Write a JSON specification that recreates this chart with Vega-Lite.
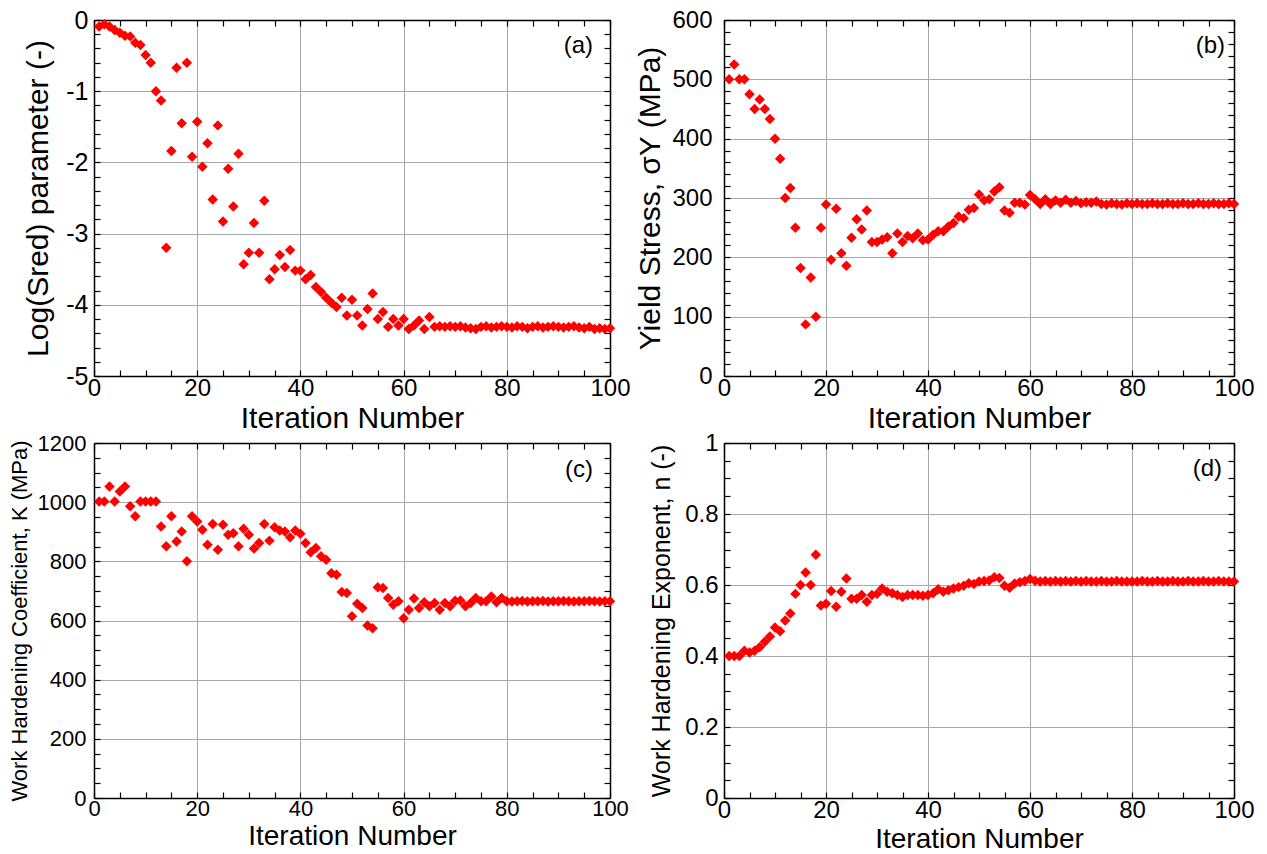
{
  "$schema": "https://vega.github.io/schema/vega-lite/v6.json",
  "background": "white",
  "padding": {"left": 8, "top": 8, "right": 0, "bottom": 0},
  "config": {
    "font": "Liberation Sans",
    "view": {"stroke": null},
    "axis": {
      "domainColor": "black", "domainWidth": 1.5,
      "tickColor": "black", "tickWidth": 1.2, "tickSize": -6,
      "labelPadding": 12, "labelColor": "black", "labelFont": "Liberation Sans",
      "titleColor": "black", "titleFont": "Liberation Sans", "titleFontWeight": "normal",
      "gridColor": "#a8a8a8", "gridWidth": 1,
      "labelOverlap": false, "labelFlush": false
    },
    "axisX": {"labelPadding": 6, "titlePadding": 3},
    "title": {"font": "Liberation Sans", "fontWeight": "normal", "color": "black"}
  },
  "datasets": {
    "iter": [
      {"it":1,"logS":-0.09,"sy":500,"K":1002,"n":0.40},
      {"it":2,"logS":-0.06,"sy":525,"K":1002,"n":0.40},
      {"it":3,"logS":-0.09,"sy":500,"K":1053,"n":0.40},
      {"it":4,"logS":-0.14,"sy":500,"K":1002,"n":0.415},
      {"it":5,"logS":-0.18,"sy":475,"K":1036,"n":0.41},
      {"it":6,"logS":-0.22,"sy":450,"K":1053,"n":0.415},
      {"it":7,"logS":-0.23,"sy":466,"K":986,"n":0.425},
      {"it":8,"logS":-0.32,"sy":450,"K":952,"n":0.44},
      {"it":9,"logS":-0.35,"sy":433,"K":1002,"n":0.455},
      {"it":10,"logS":-0.49,"sy":400,"K":1002,"n":0.48},
      {"it":11,"logS":-0.60,"sy":366,"K":1002,"n":0.47},
      {"it":12,"logS":-1.00,"sy":300,"K":1002,"n":0.50},
      {"it":13,"logS":-1.13,"sy":317,"K":918,"n":0.52},
      {"it":14,"logS":-3.20,"sy":250,"K":851,"n":0.575},
      {"it":15,"logS":-1.84,"sy":182,"K":952,"n":0.60},
      {"it":16,"logS":-0.67,"sy":87,"K":867,"n":0.635},
      {"it":17,"logS":-1.45,"sy":166,"K":901,"n":0.60},
      {"it":18,"logS":-0.60,"sy":100,"K":800,"n":0.685},
      {"it":19,"logS":-1.92,"sy":250,"K":952,"n":0.542},
      {"it":20,"logS":-1.43,"sy":289,"K":935,"n":0.547},
      {"it":21,"logS":-2.06,"sy":196,"K":907,"n":0.583},
      {"it":22,"logS":-1.73,"sy":282,"K":856,"n":0.539},
      {"it":23,"logS":-2.52,"sy":207,"K":926,"n":0.581},
      {"it":24,"logS":-1.48,"sy":186,"K":839,"n":0.618},
      {"it":25,"logS":-2.83,"sy":233,"K":924,"n":0.561},
      {"it":26,"logS":-2.09,"sy":264,"K":890,"n":0.561},
      {"it":27,"logS":-2.62,"sy":247,"K":895,"n":0.572},
      {"it":28,"logS":-1.88,"sy":279,"K":851,"n":0.553},
      {"it":29,"logS":-3.43,"sy":226,"K":910,"n":0.572},
      {"it":30,"logS":-3.27,"sy":226,"K":890,"n":0.575},
      {"it":31,"logS":-2.85,"sy":230,"K":843,"n":0.590},
      {"it":32,"logS":-3.27,"sy":234,"K":862,"n":0.581},
      {"it":33,"logS":-2.54,"sy":207,"K":926,"n":0.577},
      {"it":34,"logS":-3.64,"sy":240,"K":870,"n":0.572},
      {"it":35,"logS":-3.50,"sy":226,"K":915,"n":0.566},
      {"it":36,"logS":-3.30,"sy":236,"K":904,"n":0.572},
      {"it":37,"logS":-3.47,"sy":232,"K":901,"n":0.572},
      {"it":38,"logS":-3.23,"sy":240,"K":881,"n":0.572},
      {"it":39,"logS":-3.52,"sy":229,"K":904,"n":0.570},
      {"it":40,"logS":-3.52,"sy":230,"K":893,"n":0.572},
      {"it":41,"logS":-3.64,"sy":238,"K":862,"n":0.577},
      {"it":42,"logS":-3.58,"sy":244,"K":831,"n":0.588},
      {"it":43,"logS":-3.75,"sy":244,"K":845,"n":0.581},
      {"it":44,"logS":-3.82,"sy":252,"K":817,"n":0.585},
      {"it":45,"logS":-3.90,"sy":258,"K":805,"n":0.590},
      {"it":46,"logS":-3.97,"sy":269,"K":760,"n":0.594},
      {"it":47,"logS":-4.03,"sy":266,"K":755,"n":0.598},
      {"it":48,"logS":-3.90,"sy":280,"K":696,"n":0.605},
      {"it":49,"logS":-4.15,"sy":283,"K":693,"n":0.603},
      {"it":50,"logS":-3.93,"sy":306,"K":614,"n":0.610},
      {"it":51,"logS":-4.15,"sy":296,"K":657,"n":0.611},
      {"it":52,"logS":-4.29,"sy":298,"K":642,"n":0.613},
      {"it":53,"logS":-4.06,"sy":311,"K":583,"n":0.622},
      {"it":54,"logS":-3.84,"sy":318,"K":574,"n":0.620},
      {"it":55,"logS":-4.20,"sy":279,"K":712,"n":0.598},
      {"it":56,"logS":-4.10,"sy":275,"K":710,"n":0.592},
      {"it":57,"logS":-4.31,"sy":292,"K":676,"n":0.604},
      {"it":58,"logS":-4.20,"sy":292,"K":653,"n":0.608},
      {"it":59,"logS":-4.29,"sy":289,"K":665,"n":0.611},
      {"it":60,"logS":-4.20,"sy":305,"K":608,"n":0.617},
      {"it":61,"logS":-4.34,"sy":298,"K":636,"n":0.612},
      {"it":62,"logS":-4.29,"sy":290,"K":674,"n":0.610},
      {"it":63,"logS":-4.22,"sy":298,"K":642,"n":0.611},
      {"it":64,"logS":-4.34,"sy":290,"K":662,"n":0.610},
      {"it":65,"logS":-4.17,"sy":296,"K":648,"n":0.611},
      {"it":66,"logS":-4.31,"sy":292,"K":659,"n":0.610},
      {"it":67,"logS":-4.30,"sy":297,"K":636,"n":0.611},
      {"it":68,"logS":-4.31,"sy":292,"K":659,"n":0.610},
      {"it":69,"logS":-4.30,"sy":295,"K":648,"n":0.611},
      {"it":70,"logS":-4.31,"sy":291,"K":667,"n":0.610},
      {"it":71,"logS":-4.30,"sy":293,"K":668,"n":0.611},
      {"it":72,"logS":-4.32,"sy":292,"K":648,"n":0.610},
      {"it":73,"logS":-4.33,"sy":294,"K":659,"n":0.610},
      {"it":74,"logS":-4.34,"sy":290,"K":676,"n":0.611},
      {"it":75,"logS":-4.31,"sy":289,"K":665,"n":0.610},
      {"it":76,"logS":-4.30,"sy":291,"K":665,"n":0.610},
      {"it":77,"logS":-4.32,"sy":290,"K":681,"n":0.611},
      {"it":78,"logS":-4.31,"sy":289,"K":662,"n":0.610},
      {"it":79,"logS":-4.30,"sy":291,"K":676,"n":0.610},
      {"it":80,"logS":-4.31,"sy":290,"K":665,"n":0.610},
      {"it":81,"logS":-4.32,"sy":291,"K":664,"n":0.610},
      {"it":82,"logS":-4.30,"sy":290,"K":665,"n":0.611},
      {"it":83,"logS":-4.31,"sy":290,"K":666,"n":0.610},
      {"it":84,"logS":-4.33,"sy":291,"K":664,"n":0.610},
      {"it":85,"logS":-4.31,"sy":290,"K":665,"n":0.611},
      {"it":86,"logS":-4.30,"sy":290,"K":665,"n":0.610},
      {"it":87,"logS":-4.32,"sy":291,"K":666,"n":0.610},
      {"it":88,"logS":-4.31,"sy":290,"K":664,"n":0.611},
      {"it":89,"logS":-4.30,"sy":290,"K":665,"n":0.610},
      {"it":90,"logS":-4.31,"sy":291,"K":665,"n":0.610},
      {"it":91,"logS":-4.32,"sy":290,"K":666,"n":0.611},
      {"it":92,"logS":-4.31,"sy":290,"K":665,"n":0.610},
      {"it":93,"logS":-4.30,"sy":291,"K":664,"n":0.610},
      {"it":94,"logS":-4.32,"sy":290,"K":665,"n":0.611},
      {"it":95,"logS":-4.33,"sy":290,"K":665,"n":0.610},
      {"it":96,"logS":-4.31,"sy":291,"K":666,"n":0.610},
      {"it":97,"logS":-4.34,"sy":290,"K":665,"n":0.611},
      {"it":98,"logS":-4.33,"sy":290,"K":664,"n":0.610},
      {"it":99,"logS":-4.34,"sy":291,"K":665,"n":0.610},
      {"it":100,"logS":-4.33,"sy":290,"K":665,"n":0.610}
    ]
  },
  "data": {"name": "iter"},
  "columns": 2,
  "spacing": {"row": -2, "column": 4},
  "concat": [
    {
      "width": 516, "height": 356,
      "title": {"text": "(a)", "anchor": "end", "frame": "group", "offset": -50, "dx": -17, "fontSize": 24},
      "layer": [
        {
          "mark": {"type": "point", "shape": "diamond", "filled": true, "color": "#ff0000", "size": 110, "opacity": 1, "strokeWidth": 0},
          "encoding": {
            "x": {"field": "it", "type": "quantitative", "scale": {"domain": [0, 100], "nice": false},
              "axis": {"orient": "bottom", "values": [0,5,10,15,20,25,30,35,40,45,50,55,60,65,70,75,80,85,90,95,100],
                "labelExpr": "datum.value % 20 === 0 ? '' + datum.value : ''",
                "grid": true, "gridOpacity": {"condition": {"test": "datum.value % 20 === 0", "value": 1}, "value": 0},
                "title": "Iteration Number", "titleFontSize": 30, "labelFontSize": 24}},
            "y": {"field": "logS", "type": "quantitative", "scale": {"domain": [-5, 0], "nice": false, "zero": false},
              "axis": {"orient": "left", "values": [-5,-4.8,-4.6,-4.4,-4.2,-4,-3.8,-3.6,-3.4,-3.2,-3,-2.8,-2.6,-2.4,-2.2,-2,-1.8,-1.6,-1.4,-1.2,-1,-0.8,-0.6,-0.4,-0.2,0],
                "labelExpr": "abs(datum.value - round(datum.value)) < 1e-6 ? '' + round(datum.value) : ''",
                "grid": true, "gridOpacity": {"condition": {"test": "abs(datum.value - round(datum.value)) < 1e-6", "value": 1}, "value": 0},
                "title": "Log(Sred) parameter (-)", "titleFontSize": 30, "labelFontSize": 25, "titlePadding": 12}}
          }
        },
        {
          "mark": {"type": "point", "opacity": 0},
          "encoding": {
            "x": {"field": "it", "type": "quantitative", "scale": {"domain": [0, 100], "nice": false},
              "axis": {"orient": "top", "values": [0,5,10,15,20,25,30,35,40,45,50,55,60,65,70,75,80,85,90,95,100], "labels": false, "grid": false, "title": null}},
            "y": {"field": "logS", "type": "quantitative", "scale": {"domain": [-5, 0], "nice": false, "zero": false},
              "axis": {"orient": "right", "values": [-5,-4.8,-4.6,-4.4,-4.2,-4,-3.8,-3.6,-3.4,-3.2,-3,-2.8,-2.6,-2.4,-2.2,-2,-1.8,-1.6,-1.4,-1.2,-1,-0.8,-0.6,-0.4,-0.2,0], "labels": false, "grid": false, "title": null}}
          }
        }
      ],
      "resolve": {"axis": {"x": "independent", "y": "independent"}}
    },
    {
      "width": 510, "height": 356,
      "title": {"text": "(b)", "anchor": "end", "frame": "group", "offset": -50, "dx": -9, "fontSize": 24},
      "layer": [
        {
          "mark": {"type": "point", "shape": "diamond", "filled": true, "color": "#ff0000", "size": 110, "opacity": 1, "strokeWidth": 0},
          "encoding": {
            "x": {"field": "it", "type": "quantitative", "scale": {"domain": [0, 100], "nice": false},
              "axis": {"orient": "bottom", "values": [0,5,10,15,20,25,30,35,40,45,50,55,60,65,70,75,80,85,90,95,100],
                "labelExpr": "datum.value % 20 === 0 ? '' + datum.value : ''",
                "grid": true, "gridOpacity": {"condition": {"test": "datum.value % 20 === 0", "value": 1}, "value": 0},
                "title": "Iteration Number", "titleFontSize": 30, "labelFontSize": 24}},
            "y": {"field": "sy", "type": "quantitative", "scale": {"domain": [0, 600], "nice": false},
              "axis": {"orient": "left", "values": [0,20,40,60,80,100,120,140,160,180,200,220,240,260,280,300,320,340,360,380,400,420,440,460,480,500,520,540,560,580,600],
                "labelExpr": "datum.value % 100 === 0 ? '' + datum.value : ''",
                "grid": true, "gridOpacity": {"condition": {"test": "datum.value % 100 === 0", "value": 1}, "value": 0},
                "title": "Yield Stress, σY (MPa)", "titleFontSize": 30, "labelFontSize": 24, "labelPadding": 18, "titlePadding": 6}}
          }
        },
        {
          "mark": {"type": "point", "opacity": 0},
          "encoding": {
            "x": {"field": "it", "type": "quantitative", "scale": {"domain": [0, 100], "nice": false},
              "axis": {"orient": "top", "values": [0,5,10,15,20,25,30,35,40,45,50,55,60,65,70,75,80,85,90,95,100], "labels": false, "grid": false, "title": null}},
            "y": {"field": "sy", "type": "quantitative", "scale": {"domain": [0, 600], "nice": false},
              "axis": {"orient": "right", "values": [0,20,40,60,80,100,120,140,160,180,200,220,240,260,280,300,320,340,360,380,400,420,440,460,480,500,520,540,560,580,600], "labels": false, "grid": false, "title": null}}
          }
        }
      ],
      "resolve": {"axis": {"x": "independent", "y": "independent"}}
    },
    {
      "width": 516, "height": 355,
      "title": {"text": "(c)", "anchor": "end", "frame": "group", "offset": -50, "dx": -17, "fontSize": 24},
      "layer": [
        {
          "mark": {"type": "point", "shape": "diamond", "filled": true, "color": "#ff0000", "size": 110, "opacity": 1, "strokeWidth": 0},
          "encoding": {
            "x": {"field": "it", "type": "quantitative", "scale": {"domain": [0, 100], "nice": false},
              "axis": {"orient": "bottom", "values": [0,5,10,15,20,25,30,35,40,45,50,55,60,65,70,75,80,85,90,95,100],
                "labelExpr": "datum.value % 20 === 0 ? '' + datum.value : ''",
                "grid": true, "gridOpacity": {"condition": {"test": "datum.value % 20 === 0", "value": 1}, "value": 0},
                "title": "Iteration Number", "titleFontSize": 28, "labelFontSize": 22}},
            "y": {"field": "K", "type": "quantitative", "scale": {"domain": [0, 1200], "nice": false},
              "axis": {"orient": "left", "values": [0,50,100,150,200,250,300,350,400,450,500,550,600,650,700,750,800,850,900,950,1000,1050,1100,1150,1200],
                "labelExpr": "datum.value % 200 === 0 ? '' + datum.value : ''",
                "grid": true, "gridOpacity": {"condition": {"test": "datum.value % 200 === 0", "value": 1}, "value": 0},
                "title": "Work Hardening Coefficient, K (MPa)", "titleFontSize": 22, "labelFontSize": 22, "labelPadding": 14, "titlePadding": 6}}
          }
        },
        {
          "mark": {"type": "point", "opacity": 0},
          "encoding": {
            "x": {"field": "it", "type": "quantitative", "scale": {"domain": [0, 100], "nice": false},
              "axis": {"orient": "top", "values": [0,5,10,15,20,25,30,35,40,45,50,55,60,65,70,75,80,85,90,95,100], "labels": false, "grid": false, "title": null}},
            "y": {"field": "K", "type": "quantitative", "scale": {"domain": [0, 1200], "nice": false},
              "axis": {"orient": "right", "values": [0,50,100,150,200,250,300,350,400,450,500,550,600,650,700,750,800,850,900,950,1000,1050,1100,1150,1200], "labels": false, "grid": false, "title": null}}
          }
        }
      ],
      "resolve": {"axis": {"x": "independent", "y": "independent"}}
    },
    {
      "width": 510, "height": 355,
      "title": {"text": "(d)", "anchor": "end", "frame": "group", "offset": -50, "dx": -12, "fontSize": 24},
      "layer": [
        {
          "mark": {"type": "point", "shape": "diamond", "filled": true, "color": "#ff0000", "size": 110, "opacity": 1, "strokeWidth": 0},
          "encoding": {
            "x": {"field": "it", "type": "quantitative", "scale": {"domain": [0, 100], "nice": false},
              "axis": {"orient": "bottom", "values": [0,5,10,15,20,25,30,35,40,45,50,55,60,65,70,75,80,85,90,95,100],
                "labelExpr": "datum.value % 20 === 0 ? '' + datum.value : ''",
                "grid": true, "gridOpacity": {"condition": {"test": "datum.value % 20 === 0", "value": 1}, "value": 0},
                "title": "Iteration Number", "titleFontSize": 28, "labelFontSize": 24}},
            "y": {"field": "n", "type": "quantitative", "scale": {"domain": [0, 1], "nice": false},
              "axis": {"orient": "left", "values": [0,0.05,0.1,0.15,0.2,0.25,0.3,0.35,0.4,0.45,0.5,0.55,0.6,0.65,0.7,0.75,0.8,0.85,0.9,0.95,1],
                "labelExpr": "abs(datum.value * 5 - round(datum.value * 5)) < 1e-6 ? '' + datum.value : ''",
                "grid": true, "gridOpacity": {"condition": {"test": "abs(datum.value * 5 - round(datum.value * 5)) < 1e-6", "value": 1}, "value": 0},
                "title": "Work Hardening Exponent, n (-)", "titleFontSize": 25, "labelFontSize": 24, "labelPadding": 12, "titlePadding": 10}}
          }
        },
        {
          "mark": {"type": "point", "opacity": 0},
          "encoding": {
            "x": {"field": "it", "type": "quantitative", "scale": {"domain": [0, 100], "nice": false},
              "axis": {"orient": "top", "values": [0,5,10,15,20,25,30,35,40,45,50,55,60,65,70,75,80,85,90,95,100], "labels": false, "grid": false, "title": null}},
            "y": {"field": "n", "type": "quantitative", "scale": {"domain": [0, 1], "nice": false},
              "axis": {"orient": "right", "values": [0,0.05,0.1,0.15,0.2,0.25,0.3,0.35,0.4,0.45,0.5,0.55,0.6,0.65,0.7,0.75,0.8,0.85,0.9,0.95,1], "labels": false, "grid": false, "title": null}}
          }
        }
      ],
      "resolve": {"axis": {"x": "independent", "y": "independent"}}
    }
  ]
}
